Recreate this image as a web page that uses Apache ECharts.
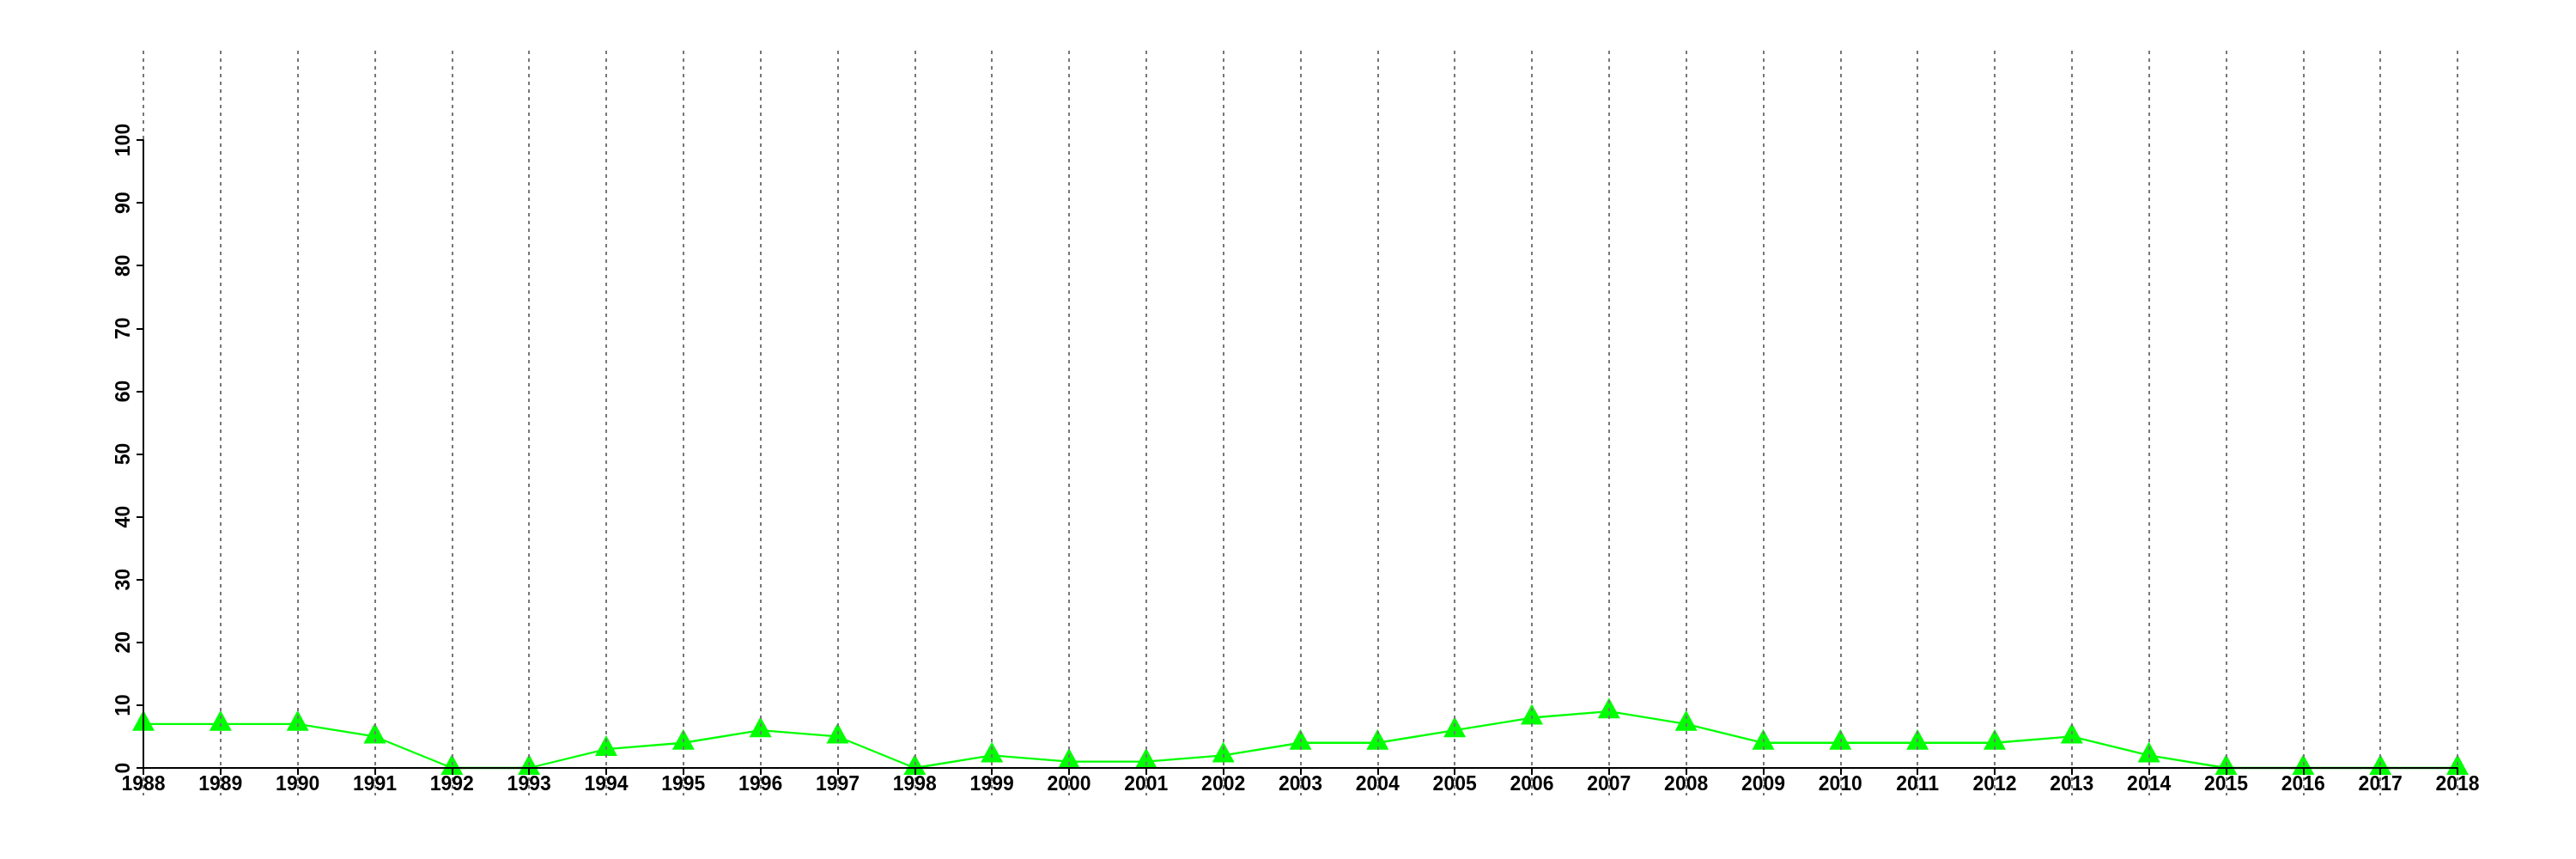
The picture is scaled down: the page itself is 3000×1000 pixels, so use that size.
<!DOCTYPE html>
<html>
<head>
<meta charset="utf-8">
<script src="https://cdn.jsdelivr.net/npm/echarts@6/dist/echarts.min.js"></script>
<style>
html,body{margin:0;padding:0;background:#fff;}
#c{width:3000px;height:1000px;}
</style>
</head>
<body>
<div id="c"></div>
<script>
const years = ['1988','1989','1990','1991','1992','1993','1994','1995','1996','1997','1998','1999','2000','2001','2002','2003','2004','2005','2006','2007','2008','2009','2010','2011','2012','2013','2014','2015','2016','2017','2018'];
const values = [7,7,7,5,0,0,3,4,6,5,0,2,1,1,2,4,4,6,8,9,7,4,4,4,4,5,2,0,0,0,0];
const yTicks = {min:0, max:100, interval:10};

const font = {fontFamily:'Liberation Sans, Arial, sans-serif', fontSize:23, fontWeight:'bold', color:'#000'};

const chart = echarts.init(document.getElementById('c'), null, {renderer:'canvas'});
chart.setOption({
  animation:false,
  backgroundColor:'#fff',
  grid:[
    {left:167, right:138, top:163, bottom:106},
    {left:167, right:138, top:59, bottom:74}
  ],
  xAxis:[
    {
      type:'category', gridIndex:0, data:years, boundaryGap:false, z:5,
      axisLine:{show:true, lineStyle:{color:'#000', width:2}},
      axisTick:{show:true, interval:0, length:8, lineStyle:{color:'#000', width:2}},
      axisLabel:Object.assign({interval:0, margin:8}, font),
      splitLine:{show:false}
    },
    {
      type:'category', gridIndex:1, data:years, boundaryGap:false, z:4,
      axisLine:{show:false}, axisTick:{show:false}, axisLabel:{show:false},
      splitLine:{show:true, interval:0, lineStyle:{color:'#777', width:2, type:[4,5]}}
    }
  ],
  yAxis:[
    {
      type:'value', gridIndex:0, min:yTicks.min, max:yTicks.max, interval:yTicks.interval, z:5,
      axisLine:{show:true, lineStyle:{color:'#000', width:2}},
      axisTick:{show:true, length:8, lineStyle:{color:'#000', width:2}},
      axisLabel:Object.assign({rotate:90, margin:11}, font),
      splitLine:{show:false}
    },
    {
      type:'value', gridIndex:1, min:0, max:1, show:false,
      splitLine:{show:false}
    }
  ],
  series:[
    {
      type:'line', xAxisIndex:0, yAxisIndex:0, data:values,
      clip:false, showAllSymbol:true,
      symbol:'triangle', symbolSize:[26,24], symbolOffset:[0,-4],
      itemStyle:{color:'#00ff00'},
      lineStyle:{color:'#00ff00', width:2.3},
      z:2
    }
  ]
});
</script>
</body>
</html>
